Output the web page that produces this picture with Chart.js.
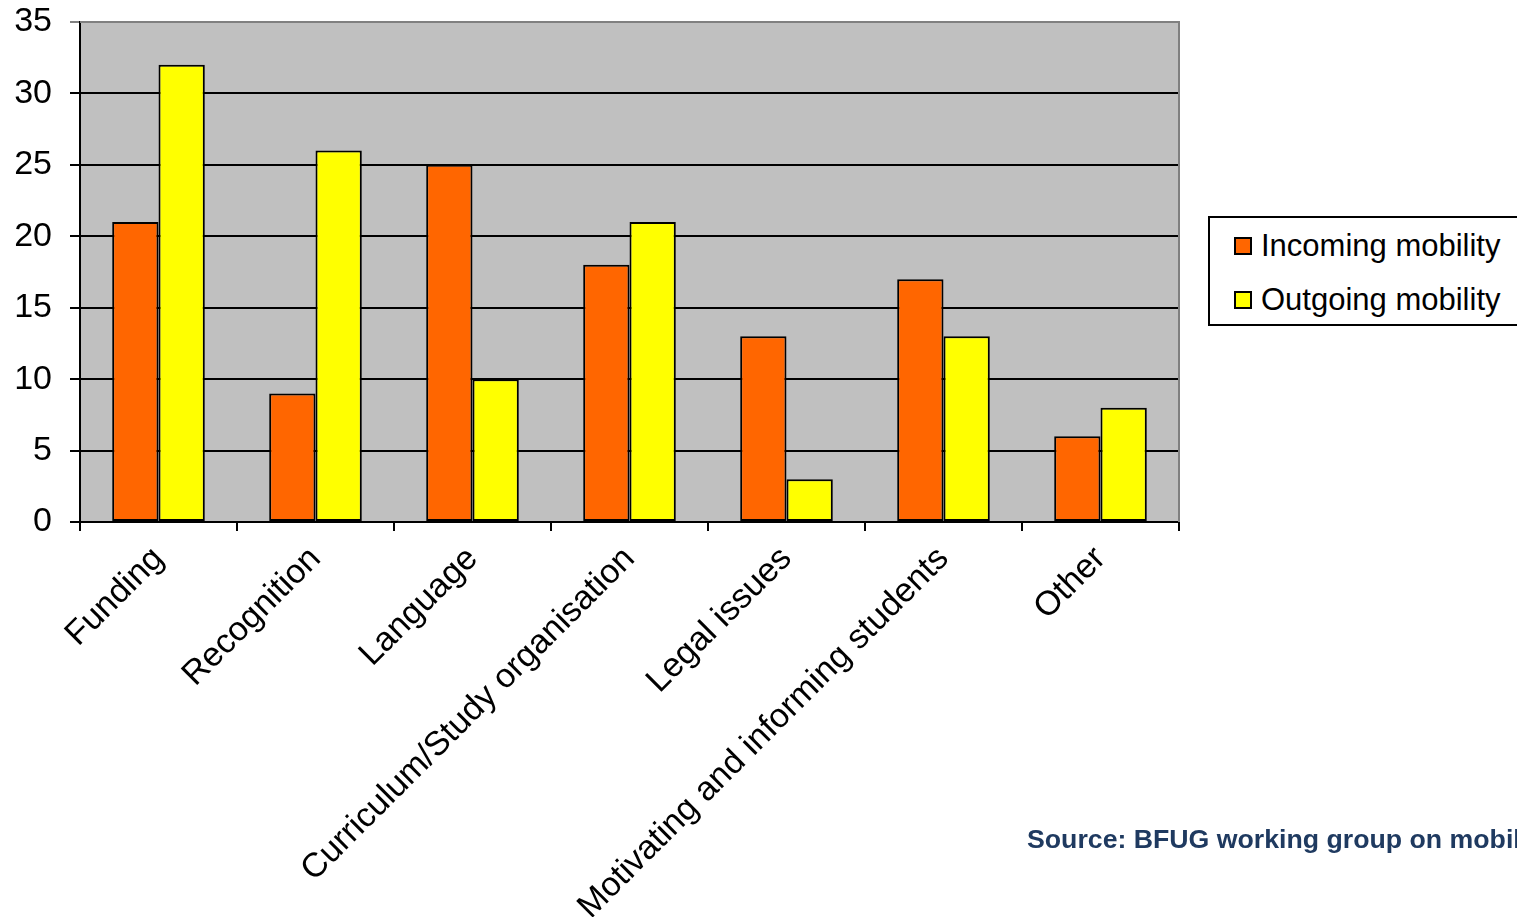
<!DOCTYPE html>
<html>
<head>
<meta charset="utf-8">
<script src="https://cdn.jsdelivr.net/npm/chart.js@4/dist/chart.umd.min.js"></script>
<style>
  html, body { margin: 0; padding: 0; background: #ffffff; }
  #wrap { position: relative; width: 1517px; height: 917px; overflow: hidden; font-family: "Liberation Sans", Arial, sans-serif; }
  #chart { position: absolute; left: 0; top: 0; }
  #legend { position: absolute; left: 1208px; top: 216px; width: 330px; height: 106px; border: 2px solid #000; background: #fff; box-sizing: content-box; }
  .item { position: absolute; left: 24px; font-size: 31px; color: #000; line-height: 36px; white-space: nowrap; }
  .item .sw { display: inline-block; width: 14px; height: 14px; border: 2px solid #000; margin-right: 9px; vertical-align: 1px; }
  #source { position: absolute; left: 1027px; top: 824px; font-size: 26.7px; font-weight: bold; color: #1f3a60; white-space: nowrap; }
</style>
</head>
<body>
<div id="wrap">
  <canvas id="chart" width="1517" height="917"></canvas>
  <div id="legend"></div>
  <div id="source">Source: BFUG working group on mobility</div>
</div>
<script>
// Obstacles to mobility, by number of responses
const categories = [
  "Funding",
  "Recognition",
  "Language",
  "Curriculum/Study organisation",
  "Legal issues",
  "Motivating and informing students",
  "Other"
];
const incoming = [21, 9, 25, 18, 13, 17, 6];
const outgoing = [32, 26, 10, 21, 3, 13, 8];
const seriesNames = ["Incoming mobility", "Outgoing mobility"];
const seriesColors = ["#ff6600", "#ffff00"];
const yMax = 35;
const yStep = 5;

// Grey plot background plus the grey frame on the top and right edges
const plotFrame = {
  id: "plotFrame",
  beforeDraw(chart) {
    const { ctx, chartArea: a } = chart;
    ctx.save();
    ctx.fillStyle = "#c0c0c0";
    ctx.fillRect(a.left, a.top, a.right - a.left, a.bottom - a.top);
    ctx.restore();
  },
  afterDatasetsDraw(chart) {
    const { ctx, chartArea: a } = chart;
    ctx.save();
    ctx.strokeStyle = "#808080";
    ctx.lineWidth = 2;
    ctx.beginPath();
    ctx.moveTo(a.left, a.top);
    ctx.lineTo(a.right, a.top);
    ctx.lineTo(a.right, a.bottom);
    ctx.stroke();
    ctx.restore();
  }
};

const chart = new Chart(document.getElementById("chart"), {
  type: "bar",
  data: {
    labels: categories,
    datasets: [
      { label: seriesNames[0], data: incoming, backgroundColor: seriesColors[0], borderColor: "#000", borderWidth: 2, borderSkipped: false },
      { label: seriesNames[1], data: outgoing, backgroundColor: seriesColors[1], borderColor: "#000", borderWidth: 2, borderSkipped: false }
    ]
  },
  options: {
    responsive: false,
    animation: false,
    layout: { padding: { left: 0, top: 22, right: 338, bottom: 0 } },
    datasets: { bar: { categoryPercentage: 0.59, barPercentage: 1.0 } },
    plugins: { legend: { display: false }, tooltip: { enabled: false } },
    scales: {
      x: {
        offset: true,
        grid: { offset: true, drawOnChartArea: false, drawTicks: true, tickLength: 9, color: "#000", lineWidth: 2 },
        border: { color: "#000", width: 2 },
        ticks: {
          color: "#000",
          font: { family: "'Liberation Sans', Arial, sans-serif", size: 34 },
          minRotation: 45, maxRotation: 45,
          padding: 8,
          autoSkip: false
        },
        afterFit(scale) {
          scale.height = 395;
          scale.paddingLeft = 0;
          scale.paddingRight = 0;
        }
      },
      y: {
        min: 0, max: yMax,
        grid: {
          color: (c) => (c.tick && c.tick.value === yMax ? "#808080" : "#000"),
          lineWidth: 2,
          tickLength: 10
        },
        border: { color: "#000", width: 2 },
        ticks: {
          stepSize: yStep,
          color: "#000",
          padding: 18,
          font: { family: "'Liberation Sans', Arial, sans-serif", size: 34 }
        },
        afterFit(scale) {
          scale.width = 80;
          scale.paddingTop = 0;
          scale.paddingBottom = 0;
        }
      }
    }
  },
  plugins: [plotFrame]
});

// Legend built from the datasets
const legend = document.getElementById("legend");
chart.data.datasets.forEach((ds, i) => {
  const row = document.createElement("div");
  row.className = "item";
  row.style.top = (10 + i * 54) + "px";
  const sw = document.createElement("span");
  sw.className = "sw";
  sw.style.background = ds.backgroundColor;
  row.appendChild(sw);
  row.appendChild(document.createTextNode(ds.label));
  legend.appendChild(row);
});
</script>
</body>
</html>
